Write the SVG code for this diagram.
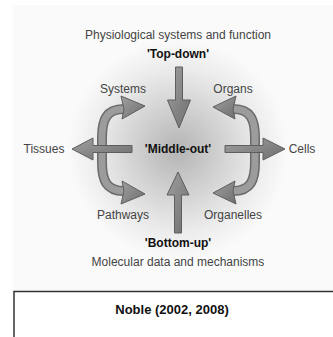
<svg xmlns="http://www.w3.org/2000/svg" width="333" height="337" viewBox="0 0 333 337">
<defs>
<radialGradient id="glow" cx="178" cy="150" r="110" gradientUnits="userSpaceOnUse">
<stop offset="0" stop-color="#b4b4b4"/>
<stop offset="0.4" stop-color="#d2d2d2"/>
<stop offset="0.75" stop-color="#ececec"/>
<stop offset="1" stop-color="#fafafa"/>
</radialGradient>
<linearGradient id="arr" x1="0" y1="0" x2="1" y2="1">
<stop offset="0" stop-color="#a0a0a0"/>
<stop offset="1" stop-color="#6e6e6e"/>
</linearGradient>
<style>
.lbl{font-family:"Liberation Sans",Arial,sans-serif;font-size:12px;fill:#444;text-anchor:middle}
.bold{font-family:"Liberation Sans",Arial,sans-serif;font-size:12px;font-weight:bold;fill:#111;text-anchor:middle}
.ah{fill:url(#arr);stroke:#5e5e5e;stroke-width:1;stroke-linejoin:round}
.bandO{fill:none;stroke:#6a6a6a;stroke-width:10}
.bandI{fill:none;stroke:#9c9c9c;stroke-width:7}
</style>
</defs>
<rect x="0" y="0" width="333" height="337" fill="#fff"/>
<rect x="13" y="5" width="320" height="286" fill="#fafafa"/>
<rect x="13" y="5" width="320" height="286" fill="url(#glow)"/>

<g id="connectors">
<g id="curve-left">
<path class="bandO" d="M124,109 C106,109 102,120 102,138 L102,162 C102,180 106,191 124,191"/>
<path class="bandI" d="M124,109 C106,109 102,120 102,138 L102,162 C102,180 106,191 124,191"/>
<polygon class="ah" points="121,96 145,106 122,119 124,109"/>
<polygon class="ah" points="122,181 145,194 121,204 124,191"/>
</g>
<g id="curve-right">
<path class="bandO" d="M233,109 C251,109 255,120 255,138 L255,162 C255,180 251,191 233,191"/>
<path class="bandI" d="M233,109 C251,109 255,120 255,138 L255,162 C255,180 251,191 233,191"/>
<polygon class="ah" points="236,96 213,107 235,119 233,109"/>
<polygon class="ah" points="235,181 213,193 236,204 233,191"/>
</g>
<polygon id="arrow-down" class="ah" points="175.5,67 182.5,67 182.5,100 190.5,100 179,128 167.5,100 175.5,100"/>
<polygon id="arrow-up" class="ah" points="174.5,233 181.5,233 181.5,195 189,195 178,172 167,195 174.5,195"/>
<polygon id="arrow-left" class="ah" points="132,145.5 132,152.5 93,152.5 93,160 72,149 93,138 93,145.5"/>
<polygon id="arrow-right" class="ah" points="225,145.5 225,152.5 263,152.5 263,160 285,149 263,138 263,145.5"/>
</g>

<g id="top"><text class="lbl" x="178" y="39">Physiological systems and function</text>
<text class="bold" x="178" y="58">'Top-down'</text></g>
<g id="systems"><text class="lbl" x="123" y="93">Systems</text></g>
<g id="organs"><text class="lbl" x="233" y="93">Organs</text></g>
<g id="tissues"><text class="lbl" x="44" y="153">Tissues</text></g>
<g id="middle"><text class="bold" x="178" y="153">'Middle-out'</text></g>
<g id="cells"><text class="lbl" x="302" y="153">Cells</text></g>
<g id="pathways"><text class="lbl" x="123" y="219">Pathways</text></g>
<g id="organelles"><text class="lbl" x="233" y="219">Organelles</text></g>
<g id="bottom"><text class="bold" x="178" y="247">'Bottom-up'</text>
<text class="lbl" x="178" y="266">Molecular data and mechanisms</text></g>

<g id="caption">
<path d="M14,337 L14,291.5 L333,291.5" fill="none" stroke="#333" stroke-width="1.5"/>
<text x="172" y="314" font-family="Liberation Sans, Arial, sans-serif" font-size="13" font-weight="bold" fill="#111" text-anchor="middle">Noble (2002, 2008)</text>
</g>
</svg>
